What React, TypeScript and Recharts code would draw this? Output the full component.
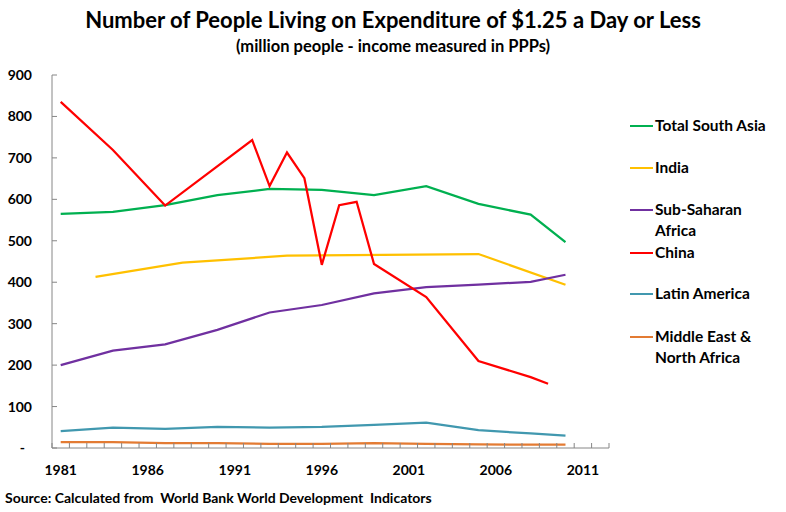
import React from 'react'
import { LineChart, Line, XAxis, YAxis } from 'recharts'

// Survey years shared by the regional aggregates
const REGION_YEARS = [1981, 1984, 1987, 1990, 1993, 1996, 1999, 2002, 2005, 2008, 2010]
const SOUTH_ASIA = [565, 570, 586, 610, 625, 623, 610, 632, 589, 563, 497]
const SUB_SAHARAN = [200, 235, 250, 285, 327, 345, 373, 388, 394, 401, 418]
const LATIN_AMERICA = [41, 49, 46, 51, 49, 51, 56, 61, 43, 35, 30]
const MIDDLE_EAST = [14, 14, 12, 12, 10, 10, 12, 10, 9, 8, 8]

const INDIA_YEARS = [1983, 1988, 1994, 2005, 2010]
const INDIA = [413, 447, 464, 468, 394]

const CHINA_YEARS = [1981, 1984, 1987, 1992, 1993, 1994, 1995, 1996, 1997, 1998, 1999, 2002, 2005, 2008, 2009]
const CHINA = [835, 719, 585, 743, 632, 713, 651, 442, 586, 594, 444, 364, 210, 171, 155]

const Y_TICKS = [0, 100, 200, 300, 400, 500, 600, 700, 800, 900]
const X_LABELS = [1981, 1986, 1991, 1996, 2001, 2006, 2011]
const FIRST_YEAR = 1981
const LAST_YEAR = 2012

const FONT = 'Lato, "Open Sans", sans-serif'
const AXIS = '#868686'

const W = 786
const H = 512
const MARGIN = { top: 75, right: 177, left: 0, bottom: 34 }
const Y_AXIS_W = 52
const CAT_W = (W - MARGIN.right - Y_AXIS_W) / (LAST_YEAR - FIRST_YEAR + 1)

const toPoints = (years: number[], values: number[]) =>
  years.map((year, i) => ({ year, value: values[i] }))

const SERIES = [
  { name: 'Total South Asia', color: '#00B050', data: toPoints(REGION_YEARS, SOUTH_ASIA) },
  { name: 'India', color: '#FFC000', data: toPoints(INDIA_YEARS, INDIA) },
  { name: 'Sub-Saharan Africa', color: '#7030A0', data: toPoints(REGION_YEARS, SUB_SAHARAN) },
  { name: 'China', color: '#FF0000', data: toPoints(CHINA_YEARS, CHINA) },
  { name: 'Latin America', color: '#4198AF', data: toPoints(REGION_YEARS, LATIN_AMERICA) },
  { name: 'Middle East & North Africa', color: '#E37B33', data: toPoints(REGION_YEARS, MIDDLE_EAST) },
]

// legend text wraps like the original
const LEGEND_LABELS = [
  ['Total South Asia'],
  ['India'],
  ['Sub-Saharan', 'Africa'],
  ['China'],
  ['Latin America'],
  ['Middle East &', 'North Africa'],
]
const LEGEND_TOPS = [126, 168, 210, 253, 294, 337]

const allYears = Array.from({ length: LAST_YEAR - FIRST_YEAR + 1 }, (_, i) => FIRST_YEAR + i)

function XTick({ x, y, payload }: any) {
  const v = payload.value as number
  const left = x - CAT_W / 2
  return (
    <g>
      <line x1={left} x2={left} y1={y - 5} y2={y} stroke={AXIS} />
      {v === LAST_YEAR && <line x1={x + CAT_W / 2} x2={x + CAT_W / 2} y1={y - 5} y2={y} stroke={AXIS} />}
      {X_LABELS.includes(v) && (
        <text x={x} y={y + 27} textAnchor="middle" fontFamily={FONT} fontWeight={700} fontSize={14} fill="#000">
          {v}
        </text>
      )}
    </g>
  )
}

function YTick({ x, y, payload }: any) {
  const v = payload.value as number
  return (
    <g>
      <line x1={x} x2={x + 5} y1={y} y2={y} stroke={AXIS} />
      <text
        x={v === 0 ? x - 27 : x - 20}
        y={y + 5}
        textAnchor="end"
        fontFamily={FONT}
        fontWeight={700}
        fontSize={14}
        fill="#000"
      >
        {v === 0 ? '-' : v}
      </text>
    </g>
  )
}

export default function App() {
  return (
    <div style={{ position: 'absolute', left: 0, top: 0, width: W, height: H, background: '#fff', fontFamily: FONT }}>
      <div style={{ position: 'absolute', top: 6, left: 0, width: W, textAlign: 'center', fontSize: 22, fontWeight: 700, lineHeight: '28px' }}>
        Number of People Living on Expenditure of $1.25 a Day or Less
      </div>
      <div style={{ position: 'absolute', top: 36, left: 0, width: W, textAlign: 'center', fontSize: 16.5, fontWeight: 700, lineHeight: '20px' }}>
        (million people - income measured in PPPs)
      </div>

      <LineChart width={W} height={H} margin={MARGIN}>
        <XAxis
          type="number"
          dataKey="year"
          domain={[FIRST_YEAR - 0.5, LAST_YEAR + 0.5]}
          ticks={allYears}
          interval={0}
          height={30}
          tickSize={0}
          tickMargin={0}
          tickLine={false}
          axisLine={{ stroke: AXIS }}
          tick={<XTick />}
          allowDataOverflow
        />
        <YAxis
          type="number"
          domain={[0, 900]}
          ticks={Y_TICKS}
          interval={0}
          width={Y_AXIS_W}
          tickSize={0}
          tickMargin={0}
          tickLine={false}
          axisLine={{ stroke: AXIS }}
          tick={<YTick />}
        />
        {SERIES.map((s) => (
          <Line
            key={s.name}
            data={s.data}
            dataKey="value"
            name={s.name}
            type="linear"
            stroke={s.color}
            strokeWidth={2.25}
            dot={false}
            activeDot={false}
            isAnimationActive={false}
          />
        ))}
      </LineChart>

      {SERIES.map((s, i) => (
        <div key={s.name} style={{ position: 'absolute', left: 630, top: LEGEND_TOPS[i] - 11, fontSize: 15.5, fontWeight: 700, lineHeight: '21px' }}>
          <div style={{ position: 'absolute', left: 0, top: 10, width: 23, height: 2, background: s.color }} />
          <div style={{ marginLeft: 25, whiteSpace: 'nowrap' }}>
            {LEGEND_LABELS[i].map((t) => (
              <div key={t}>{t}</div>
            ))}
          </div>
        </div>
      ))}

      <div style={{ position: 'absolute', left: 5, top: 489, fontSize: 14, fontWeight: 700, whiteSpace: 'pre', lineHeight: '17px' }}>
        {'Source: Calculated from  World Bank World Development  Indicators'}
      </div>
    </div>
  )
}
